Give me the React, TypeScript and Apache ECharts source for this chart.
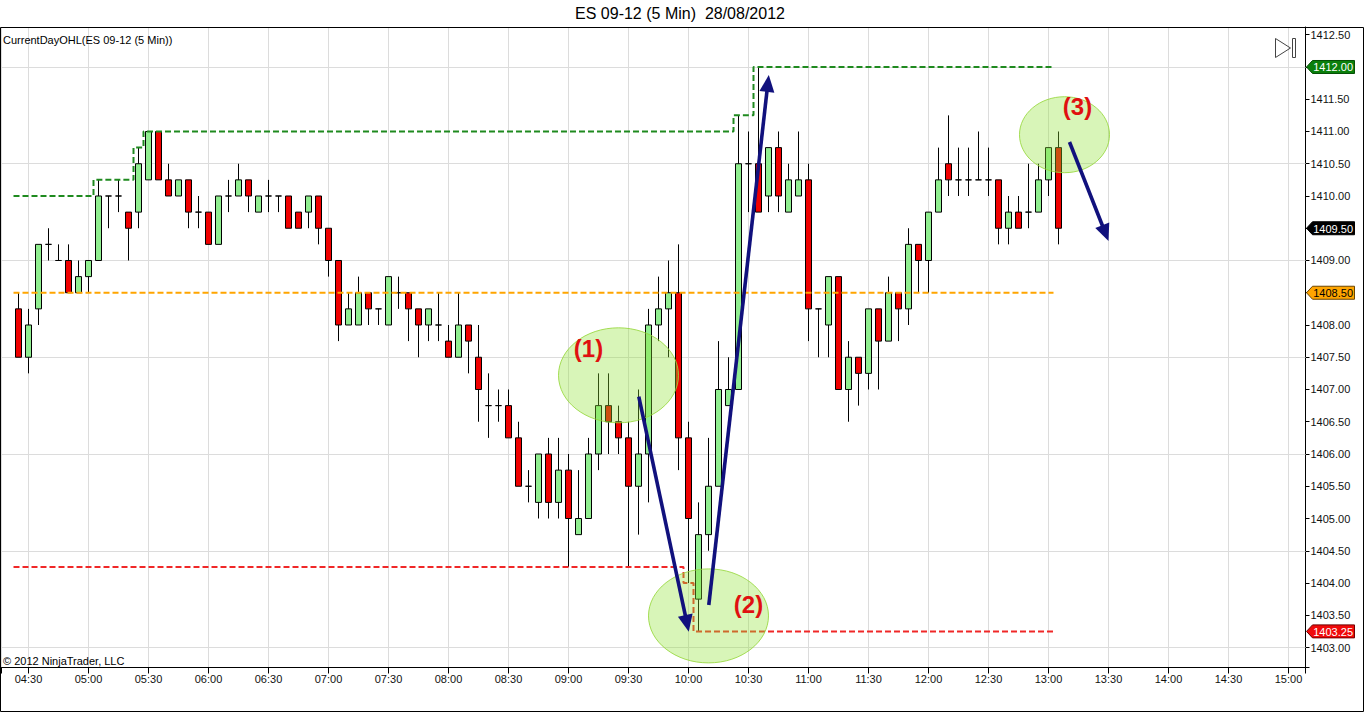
import React, { useEffect, useRef } from "react";
import * as echarts from "echarts";

// ---------- data ----------
const barTimes = [
  "04:25", "04:30", "04:35", "04:40", "04:45", "04:50", "04:55",
  "05:00", "05:05", "05:10", "05:15", "05:20", "05:25", "05:30", "05:35", "05:40", "05:45", "05:50", "05:55",
  "06:00", "06:05", "06:10", "06:15", "06:20", "06:25", "06:30", "06:35", "06:40", "06:45", "06:50", "06:55",
  "07:00", "07:05", "07:10", "07:15", "07:20", "07:25", "07:30", "07:35", "07:40", "07:45", "07:50", "07:55",
  "08:00", "08:05", "08:10", "08:15", "08:20", "08:25", "08:30", "08:35", "08:40", "08:45", "08:50", "08:55",
  "09:00", "09:05", "09:10", "09:15", "09:20", "09:25", "09:30", "09:35", "09:40", "09:45", "09:50", "09:55",
  "10:00", "10:05", "10:10", "10:15", "10:20", "10:25", "10:30", "10:35", "10:40", "10:45", "10:50", "10:55",
  "11:00", "11:05", "11:10", "11:15", "11:20", "11:25", "11:30", "11:35", "11:40", "11:45", "11:50", "11:55",
  "12:00", "12:05", "12:10", "12:15", "12:20", "12:25", "12:30", "12:35", "12:40", "12:45", "12:50", "12:55",
  "13:00", "13:05",
];

const opens = [
  1408.25, 1407.5, 1408.25, 1409.25, 1409.0, 1409.0, 1408.5,
  1408.75, 1409.0, 1410.0, 1410.0, 1409.75, 1409.75, 1410.25, 1411.0, 1410.25, 1410.0, 1410.25, 1409.75,
  1409.75, 1409.25, 1410.0, 1410.0, 1410.25, 1409.75, 1410.0, 1410.0, 1410.0, 1409.75, 1409.75, 1410.0,
  1409.5, 1409.0, 1408.0, 1408.0, 1408.5, 1408.25, 1408.0, 1408.5, 1408.5, 1408.25, 1408.0, 1408.0,
  1407.75, 1407.5, 1408.0, 1407.5, 1406.75, 1406.75, 1406.75, 1406.25, 1405.5, 1405.25, 1406.0, 1405.25,
  1405.75, 1404.75, 1405.0, 1406.0, 1406.75, 1406.5, 1406.25, 1405.5, 1406.0, 1408.0, 1408.25, 1408.5,
  1406.25, 1403.75, 1404.75, 1405.5, 1406.75, 1407.0, 1410.5, 1410.5, 1410.0, 1410.75, 1409.75, 1410.0,
  1410.25, 1408.25, 1408.0, 1408.75, 1407.0, 1407.5, 1407.25, 1408.25, 1407.75, 1408.5, 1408.25, 1409.25,
  1409.0, 1409.75, 1410.5, 1410.25, 1410.25, 1410.25, 1410.25, 1410.25, 1409.5, 1409.75, 1409.75, 1409.75,
  1410.25, 1410.75,
];

const closes = [
  1407.5, 1408.0, 1409.25, 1409.25, 1409.0, 1408.5, 1408.75,
  1409.0, 1410.0, 1410.0, 1410.0, 1409.5, 1410.5, 1411.0, 1410.25, 1410.0, 1410.25, 1409.75, 1409.75,
  1409.25, 1410.0, 1410.0, 1410.25, 1410.0, 1410.0, 1410.0, 1410.0, 1409.5, 1409.5, 1410.0, 1409.5,
  1409.0, 1408.0, 1408.25, 1408.5, 1408.25, 1408.25, 1408.75, 1408.5, 1408.25, 1408.0, 1408.25, 1408.0,
  1407.5, 1408.0, 1407.75, 1407.0, 1406.75, 1406.75, 1406.25, 1405.5, 1405.5, 1406.0, 1405.25, 1405.75,
  1405.0, 1405.0, 1406.0, 1406.75, 1406.5, 1406.25, 1405.5, 1406.0, 1408.0, 1408.25, 1408.5, 1406.25,
  1405.0, 1404.75, 1405.5, 1407.0, 1407.0, 1410.5, 1410.5, 1409.75, 1410.75, 1410.0, 1410.25, 1410.25,
  1408.25, 1408.25, 1408.75, 1407.0, 1407.5, 1407.25, 1408.25, 1407.75, 1408.5, 1408.25, 1409.25, 1409.0,
  1409.75, 1410.25, 1410.25, 1410.25, 1410.25, 1410.25, 1410.25, 1409.5, 1409.75, 1409.5, 1409.75, 1410.25,
  1410.75, 1409.5,
];

const lows = [
  1407.5, 1407.25, 1408.0, 1409.0, 1409.0, 1408.5, 1408.5,
  1408.5, 1409.0, 1409.5, 1409.75, 1409.0, 1409.5, 1410.25, 1410.25, 1410.0, 1410.0, 1409.5, 1409.5,
  1409.25, 1409.25, 1409.75, 1410.0, 1409.75, 1409.75, 1409.75, 1409.75, 1409.5, 1409.5, 1409.5, 1409.25,
  1408.75, 1407.75, 1408.0, 1408.0, 1408.0, 1408.0, 1408.0, 1408.25, 1407.75, 1407.5, 1407.75, 1407.75,
  1407.5, 1407.5, 1407.25, 1406.5, 1406.25, 1406.5, 1406.25, 1405.5, 1405.25, 1405.0, 1405.0, 1405.0,
  1404.25, 1404.75, 1405.0, 1405.75, 1406.0, 1406.0, 1404.25, 1404.75, 1405.25, 1407.75, 1407.5, 1405.75,
  1404.0, 1403.25, 1404.5, 1405.5, 1406.75, 1407.0, 1409.75, 1409.75, 1409.75, 1409.75, 1409.75, 1410.0,
  1407.75, 1407.5, 1407.5, 1407.0, 1406.5, 1406.75, 1407.0, 1407.0, 1407.75, 1407.75, 1408.0, 1408.5,
  1408.5, 1409.75, 1410.0, 1410.0, 1410.0, 1410.25, 1410.0, 1409.25, 1409.25, 1409.5, 1409.5, 1409.75,
  1410.0, 1409.25,
];

const highs = [
  1408.5, 1408.25, 1409.25, 1409.5, 1409.25, 1409.25, 1409.0,
  1409.0, 1410.25, 1410.0, 1410.25, 1409.75, 1410.75, 1411.0, 1411.0, 1410.5, 1410.25, 1410.25, 1410.0,
  1409.75, 1410.0, 1410.25, 1410.5, 1410.25, 1410.0, 1410.25, 1410.0, 1410.0, 1409.75, 1410.0, 1410.0,
  1409.5, 1409.0, 1408.5, 1408.75, 1408.5, 1408.25, 1408.75, 1408.75, 1408.5, 1408.25, 1408.25, 1408.5,
  1408.0, 1408.5, 1408.0, 1408.0, 1407.25, 1407.0, 1407.0, 1406.5, 1405.75, 1406.0, 1406.25, 1406.25,
  1406.0, 1405.75, 1406.25, 1407.25, 1407.25, 1406.75, 1406.5, 1407.0, 1408.25, 1408.75, 1409.0, 1409.25,
  1406.5, 1405.25, 1406.25, 1407.75, 1407.5, 1411.25, 1411.0, 1412.0, 1410.75, 1411.0, 1410.5, 1411.0,
  1410.5, 1408.25, 1408.75, 1408.75, 1407.75, 1407.5, 1408.25, 1408.25, 1408.75, 1408.5, 1409.5, 1409.25,
  1409.75, 1410.75, 1411.25, 1410.75, 1410.75, 1411.0, 1410.75, 1410.25, 1410.0, 1410.0, 1410.5, 1410.5,
  1410.75, 1411.0,
];

// CurrentDayOHL indicator inputs (session values before the first visible bar)
const priorSessionHigh = 1410.0;
const priorSessionLow = 1404.25;
const sessionOpen = 1408.5;
const indicatorBars = 104; // plotted through the last completed bar

const horizontalGridLevels = [1403.0, 1404.5, 1406.0, 1407.5, 1409.0, 1410.5, 1412.0];

// annotations, in (minutes since midnight, price)
const ellipseNotes = [
  { t: 565, p: 1407.22, rx: 60, ry: 47.5 },
  { t: 610, p: 1403.49, rx: 60, ry: 47 },
  { t: 788, p: 1410.95, rx: 45, ry: 38 },
];
const labelNotes = [
  { text: "(1)", t: 550, p: 1407.63 },
  { text: "(2)", t: 630, p: 1403.66 },
  { text: "(3)", t: 794.5, p: 1411.38 },
];
const arrowNotes = [
  { from: [575.15, 1406.89], to: [600.15, 1403.245] },
  { from: [610.15, 1403.66], to: [640.15, 1411.876] },
  { from: [790.5, 1410.837], to: [810, 1409.302] },
];

// ---------- helpers ----------
const FONT = '"Liberation Sans", Arial, sans-serif';
const X_MIN = 256.5;
const X_MAX = 908.5;
const Y_MIN = 1402.69;
const Y_MAX = 1412.62;

const toMin = (s: string) => {
  const [h, m] = s.split(":").map(Number);
  return h * 60 + m;
};
const fmtTime = (v: number) => {
  const h = Math.floor(v / 60);
  const m = Math.round(v - h * 60);
  return String(h).padStart(2, "0") + ":" + String(m).padStart(2, "0");
};

const runningHigh: number[] = [];
const runningLow: number[] = [];
{
  let hi = priorSessionHigh;
  let lo = priorSessionLow;
  for (let i = 0; i < indicatorBars; i++) {
    hi = Math.max(hi, highs[i]);
    lo = Math.min(lo, lows[i]);
    runningHigh.push(hi);
    runningLow.push(lo);
  }
}
const openLine = runningHigh.map(() => sessionOpen);

const stepData = (vals: number[]) => {
  const out: number[][] = [];
  vals.forEach((v, i) => {
    const t = toMin(barTimes[i]);
    out.push([t - 2.5, v], [t + 2.5, v]);
  });
  return out;
};

export default function App() {
  const ref = useRef<HTMLDivElement>(null);

  useEffect(() => {
    if (!ref.current) return;
    const chart = echarts.init(ref.current, null, { renderer: "svg" });

    const candleData = barTimes.map((t, i) => [toMin(t), opens[i], closes[i], lows[i], highs[i]]);

    const dashed = (color: string) => ({ color, width: 2, type: [6, 3] as number[] });

    const option: any = {
      animation: false,
      backgroundColor: "#ffffff",
      textStyle: { fontFamily: FONT },
      grid: { left: 1.5, top: 27, width: 1304, height: 640.5, containLabel: false, outerBoundsMode: "none" },
      xAxis: {
        type: "value",
        min: X_MIN,
        max: X_MAX,
        minInterval: 30,
        maxInterval: 30,
        axisLine: { show: true, onZero: false, lineStyle: { color: "#000", width: 1 } },
        axisTick: { show: true, length: 6, lineStyle: { color: "#000" } },
        axisLabel: {
          show: true,
          margin: 6,
          color: "#111",
          fontSize: 11,
          fontFamily: FONT,
          formatter: (v: number) => (Math.abs(v / 30 - Math.round(v / 30)) < 1e-6 ? fmtTime(v) : ""),
        },
        splitLine: { show: true, lineStyle: { color: "#dcdcdc", width: 1 } },
      },
      yAxis: {
        type: "value",
        position: "right",
        min: Y_MIN,
        max: Y_MAX,
        minInterval: 0.5,
        maxInterval: 0.5,
        splitNumber: 20,
        axisLine: { show: true, onZero: false, lineStyle: { color: "#000", width: 1 } },
        axisTick: { show: true, length: 4, lineStyle: { color: "#000" } },
        axisLabel: {
          show: true,
          margin: 5,
          color: "#111",
          fontSize: 11,
          fontFamily: FONT,
          formatter: (v: number) => (Math.abs(v * 2 - Math.round(v * 2)) < 1e-6 ? v.toFixed(2) : ""),
        },
        splitLine: { show: false },
      },
      series: [
        {
          type: "candlestick",
          name: "ES 09-12",
          data: candleData,
          encode: { x: 0, y: [1, 2, 3, 4] },
          barWidth: 6,
          z: 3,
          silent: true,
          itemStyle: {
            color: "#90ee90",
            color0: "#f00000",
            borderColor: "#000",
            borderColor0: "#000",
            borderColorDoji: "#000",
            borderWidth: 1,
          },
          markLine: {
            silent: true,
            symbol: ["none", "none"],
            label: { show: false },
            z: 1,
            animation: false,
            lineStyle: { color: "#dcdcdc", width: 1, type: "solid" },
            data: horizontalGridLevels.map((v) => ({ yAxis: v })),
          },
        },
        {
          type: "line",
          name: "High",
          data: stepData(runningHigh),
          symbol: "none",
          silent: true,
          z: 5,
          lineStyle: dashed("#1f8a1f"),
        },
        {
          type: "line",
          name: "Open",
          data: stepData(openLine),
          symbol: "none",
          silent: true,
          z: 5,
          lineStyle: dashed("#ffa500"),
        },
        {
          type: "line",
          name: "Low",
          data: stepData(runningLow),
          symbol: "none",
          silent: true,
          z: 5,
          lineStyle: dashed("#f02828"),
        },
      ],
    };

    chart.setOption(option);

    const px = (t: number, p: number) => chart.convertToPixel({ gridIndex: 0 }, [t, p]) as number[];
    const gridRight = 1305.5;

    const elements: any[] = [];

    // frame
    elements.push({
      type: "rect",
      shape: { x: 0.5, y: 27.5, width: 1363, height: 684 },
      style: { fill: "none", stroke: "#000", lineWidth: 1 },
      z: 100,
      silent: true,
    });
    // title
    elements.push({
      type: "text",
      x: 680,
      y: 13,
      style: { text: "ES 09-12 (5 Min)  28/08/2012", fill: "#000", font: `16px ${FONT}`, align: "center", verticalAlign: "middle" },
      z: 100,
    });
    elements.push({
      type: "text",
      x: 3,
      y: 40,
      style: { text: "CurrentDayOHL(ES 09-12 (5 Min))", fill: "#000", font: `11px ${FONT}`, align: "left", verticalAlign: "middle" },
      z: 100,
    });
    elements.push({
      type: "text",
      x: 3,
      y: 661,
      style: { text: "\u00a9 2012 NinjaTrader, LLC", fill: "#000", font: `11px ${FONT}`, align: "left", verticalAlign: "middle" },
      z: 100,
    });
    // scroll icon
    elements.push({
      type: "polygon",
      shape: { points: [[1275.5, 38.5], [1275.5, 57.5], [1290.5, 48]] },
      style: { fill: "none", stroke: "#444", lineWidth: 1 },
      z: 100,
    });
    elements.push({
      type: "rect",
      shape: { x: 1292.5, y: 38.5, width: 3, height: 19 },
      style: { fill: "none", stroke: "#444", lineWidth: 1 },
      z: 100,
    });

    // ellipses
    ellipseNotes.forEach((e) => {
      const [cx, cy] = px(e.t, e.p);
      elements.push({
        type: "ellipse",
        shape: { cx, cy, rx: e.rx, ry: e.ry },
        style: { fill: "rgba(144,226,52,0.35)", stroke: "rgba(150,215,60,0.85)", lineWidth: 1 },
        z: 50,
        silent: true,
      });
    });
    // labels
    labelNotes.forEach((l) => {
      const [x, y] = px(l.t, l.p);
      elements.push({
        type: "text",
        x,
        y,
        style: { text: l.text, fill: "#e01010", font: `bold 24px ${FONT}`, align: "center", verticalAlign: "middle" },
        z: 70,
      });
    });
    // arrows
    const arrowColor = "#11117d";
    arrowNotes.forEach((a) => {
      const s = px(a.from[0], a.from[1]);
      const e = px(a.to[0], a.to[1]);
      const dx = e[0] - s[0];
      const dy = e[1] - s[1];
      const len = Math.hypot(dx, dy);
      const ux = dx / len;
      const uy = dy / len;
      const headL = 17;
      const headW = 7.5;
      const bx = e[0] - ux * headL;
      const by = e[1] - uy * headL;
      elements.push({
        type: "line",
        shape: { x1: s[0], y1: s[1], x2: e[0] - ux * (headL - 3), y2: e[1] - uy * (headL - 3) },
        style: { stroke: arrowColor, lineWidth: 3.6 },
        z: 60,
      });
      elements.push({
        type: "polygon",
        shape: { points: [[e[0], e[1]], [bx - uy * headW, by + ux * headW], [bx + uy * headW, by - ux * headW]] },
        style: { fill: arrowColor },
        z: 60,
      });
    });

    // price markers on the axis
    const lastIdx = indicatorBars - 1;
    const badges = [
      { v: runningHigh[lastIdx], fill: "#0b7f0b", stroke: "#055005", text: "#ffffff" },
      { v: closes[closes.length - 1], fill: "#000000", stroke: "#000000", text: "#ffffff" },
      { v: sessionOpen, fill: "#ffa500", stroke: "#6a4500", text: "#000000" },
      { v: runningLow[lastIdx], fill: "#f00a0a", stroke: "#700000", text: "#ffffff" },
    ];
    badges.forEach((b) => {
      const y = px(X_MIN, b.v)[1];
      elements.push({
        type: "polygon",
        shape: {
          points: [
            [gridRight + 1, y],
            [gridRight + 7, y - 6.5],
            [1354.5, y - 6.5],
            [1354.5, y + 6.5],
            [gridRight + 7, y + 6.5],
          ],
        },
        style: { fill: b.fill, stroke: b.stroke, lineWidth: 1 },
        z: 110,
      });
      elements.push({
        type: "text",
        x: 1353,
        y: y + 0.5,
        style: { text: b.v.toFixed(2), fill: b.text, font: `11px ${FONT}`, align: "right", verticalAlign: "middle" },
        z: 111,
      });
    });

    chart.setOption({ graphic: { elements } });

    return () => chart.dispose();
  }, []);

  return (
    <div
      ref={ref}
      style={{ position: "fixed", left: 0, top: 0, width: 1366, height: 713, background: "#fff" }}
    />
  );
}
